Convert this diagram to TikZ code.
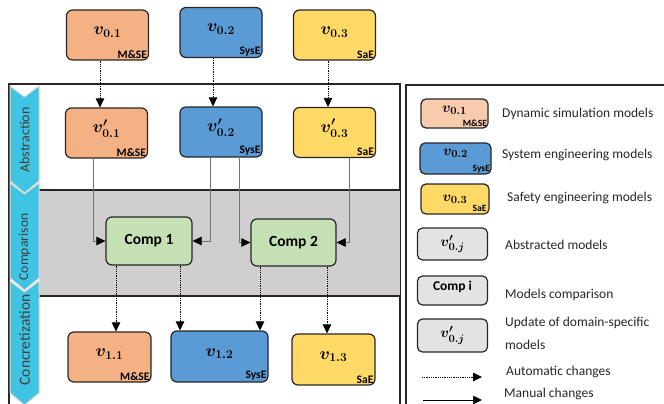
\documentclass[tikz,border=0pt]{standalone}
\usepackage[no-math]{fontspec}
\setmainfont{Carlito}
\usetikzlibrary{arrows.meta}

\definecolor{linecol}{HTML}{262626}
\definecolor{msecol}{HTML}{F4B183}
\definecolor{msekey}{HTML}{F8CBAD}
\definecolor{syscol}{HTML}{5B9BD5}
\definecolor{saecol}{HTML}{FFD966}
\definecolor{compcol}{HTML}{C5E0B4}
\definecolor{bandcol}{HTML}{D0CECE}
\definecolor{keycol}{HTML}{E4E3E3}
\definecolor{chevcol}{HTML}{40C4E4}
\definecolor{sidetext}{HTML}{404040}

\tikzset{
  model/.style={rectangle, rounded corners=6pt, draw=linecol, line width=1.2pt,
    minimum width=82pt, minimum height=50pt, inner sep=0pt,
    font=\fontsize{18}{20}\selectfont\boldmath, text height=9pt, text depth=10pt},
  tag/.style={anchor=south east, inner sep=2pt, font=\fontsize{11.5}{13}\selectfont\bfseries},
  comp/.style={rectangle, rounded corners=6pt, draw=linecol, line width=1.2pt,
    fill=compcol, minimum width=86pt, minimum height=48pt, inner sep=0pt,
    font=\fontsize{15.5}{18}\selectfont\bfseries},
  keybox/.style={rectangle, rounded corners=5pt, draw=linecol, line width=1.2pt,
    minimum width=70pt, minimum height=30pt, inner sep=0pt,
    font=\fontsize{15}{17}\selectfont\boldmath},
  keytag/.style={anchor=south east, inner sep=1.5pt, font=\fontsize{9.5}{11}\selectfont\bfseries},
  keytext/.style={anchor=west, inner sep=0pt, align=left,
    font=\fontsize{13.5}{23}\selectfont, text=linecol},
  sidelabel/.style={rotate=90, inner sep=0pt, text=sidetext},
  chev/.style={fill=chevcol, draw=white!85!black, line width=1pt},
  frame/.style={draw=linecol, line width=1.2pt},
  autoline/.style={densely dotted, line width=0.8pt, draw=black,
    -{Triangle[length=9pt,width=8.5pt]}},
  manualline/.style={line width=0.7pt, draw=black!55,
    -{Triangle[length=9pt,width=8.5pt,color=black]}}
}

\begin{document}
\begin{tikzpicture}[x=1pt,y=-1pt]
\useasboundingbox (0,0) rectangle (664,404);

% frames and comparison band
\draw[frame] (9,84) rectangle (400,414);
\fill[bandcol] (39,190) rectangle (400,296);
\draw[frame] (39,190) -- (400,190);
\draw[frame] (39,296) -- (400,296);
\draw[frame] (406,85) rectangle (674,414);

% phase chevrons
\draw[chev] (10,86) -- (24.5,97) -- (39,86) -- (39,181) -- (24.5,193) -- (10,181) -- cycle;
\draw[chev] (10,183) -- (24.5,194) -- (39,183) -- (39,278) -- (24.5,290) -- (10,278) -- cycle;
\draw[chev] (10,281) -- (24.5,292) -- (39,281) -- (39,393) -- (24.5,405) -- (10,393) -- cycle;
\node[sidelabel, font=\fontsize{14}{16}\selectfont] (abst) at (24.5,140) {Abstraction};
\node[sidelabel, font=\fontsize{13.7}{16}\selectfont] (compa) at (24.5,247) {Comparison};
\node[sidelabel, font=\fontsize{15.5}{17}\selectfont] (concr) at (24.5,340) {Concretization};

% domain models
\node[model, fill=msecol, label={[tag]south east:M\&SE}] (v01) at (107.5,35) {$v_{\mathbf{0.1}}$};
\node[model, fill=syscol, label={[tag]south east:SysE}] (v02) at (221,32.5) {$v_{\mathbf{0.2}}$};
\node[model, fill=saecol, label={[tag]south east:SaE}] (v03) at (334.5,35) {$v_{\mathbf{0.3}}$};

% abstracted models
\node[model, fill=msecol, label={[tag]south east:M\&SE}] (pv01) at (106.5,133) {$v'_{\mathbf{0.1}}$};
\node[model, fill=syscol, label={[tag]south east:SysE}] (pv02) at (221,132) {$v'_{\mathbf{0.2}}$};
\node[model, fill=saecol, label={[tag]south east:SaE}] (pv03) at (334.5,132.5) {$v'_{\mathbf{0.3}}$};

% comparisons
\node[comp] (comp1) at (149,241) {Comp 1};
\node[comp, minimum width=85pt, minimum height=47pt] (comp2) at (293.5,242.5) {Comp 2};

% updated models
\node[model, fill=msecol, minimum width=83pt, label={[tag]south east:M\&SE}] (v11) at (109.5,357) {$v_{\mathbf{1.1}}$};
\node[model, fill=syscol, minimum width=97pt, minimum height=51pt, label={[tag]south east:SysE}] (v12) at (219.5,356.5) {$v_{\mathbf{1.2}}$};
\node[model, fill=saecol, minimum width=83pt, minimum height=51pt, label={[tag]south east:SaE}] (v13) at (333.5,359.5) {$v_{\mathbf{1.3}}$};

% abstraction
\draw[autoline] ([xshift=-7.5]v01.south) -- ([xshift=-6.5]pv01.north);
\draw[autoline] ([xshift=-8]v02.south) -- ([xshift=-8]pv02.north);
\draw[autoline] ([xshift=-6.5]v03.south) -- ([xshift=-6.5]pv03.north);

% inputs of the comparisons
\draw[manualline] ([xshift=-13.5]pv01.south) |- (comp1.west);
\draw[manualline] ([xshift=-11]pv02.south) |- (comp1.east);
\draw[manualline] ([xshift=18]pv02.south) |- (comp2.west);
\draw[manualline] ([xshift=14.5]pv03.south) |- (comp2.east);

% concretization
\draw[autoline] ([xshift=-33]comp1.south) -- ([xshift=-33]comp1.south |- v11.north);
\draw[autoline] ([xshift=31]comp1.south) -- ([xshift=31]comp1.south |- v12.north);
\draw[autoline] ([xshift=-33.5]comp2.south) -- ([xshift=-33.5]comp2.south |- v12.north);
\draw[autoline] ([xshift=33.5]comp2.south) -- ([xshift=33.5]comp2.south |- v13.north);

% legend
\node[keybox, fill=msekey, minimum width=67pt, minimum height=29pt, text height=6pt, text depth=8pt,
  label={[keytag]south east:M\&SE}] (k1) at (454.5,113.5) {$v_{\mathbf{0.1}}$};
\node[keybox, fill=syscol, minimum width=71pt, minimum height=31pt, text height=5pt, text depth=12pt,
  label={[keytag]south east:SysE}] (k2) at (455.5,158.5) {$v_{\mathbf{0.2}}$};
\node[keybox, fill=saecol, minimum width=68pt, label={[keytag, inner sep=3pt]south east:SaE}] (k3) at (455,199) {$v_{\mathbf{0.3}}$};
\node[keybox, fill=keycol, minimum height=32pt] (k4) at (452.5,244) {$v'_{\mathbf{0.}j}$};
\node[keybox, fill=keycol, minimum height=29pt, font=\fontsize{13.5}{15}\selectfont\bfseries,
  text height=8pt, text depth=8pt] (k5) at (452.5,290.5) {Comp i};
\node[keybox, fill=keycol, minimum height=33pt] (k6) at (452.5,335.5) {$v'_{\mathbf{0.}j}$};
\coordinate (ka1) at (422,377);
\coordinate (ka2) at (482,377);
\coordinate (km1) at (423,400);
\coordinate (km2) at (482,400);
\draw[autoline] (ka1) -- (ka2);
\draw[manualline, draw=black] (km1) -- (km2);

\node[keytext] (t1) at (502,114) {Dynamic simulation models};
\node[keytext] (t2) at (502,155) {System engineering models};
\node[keytext] (t3) at (507,198) {Safety engineering models};
\node[keytext] (t4) at (505,245) {Abstracted models};
\node[keytext] (t5) at (505,295) {Models comparison};
\node[keytext] (t6) at (505,333.5) {Update of domain-specific\\models};
\node[keytext] (t7) at (506,372) {Automatic changes};
\node[keytext] (t8) at (504,394) {Manual changes};
\end{tikzpicture}
\end{document}
